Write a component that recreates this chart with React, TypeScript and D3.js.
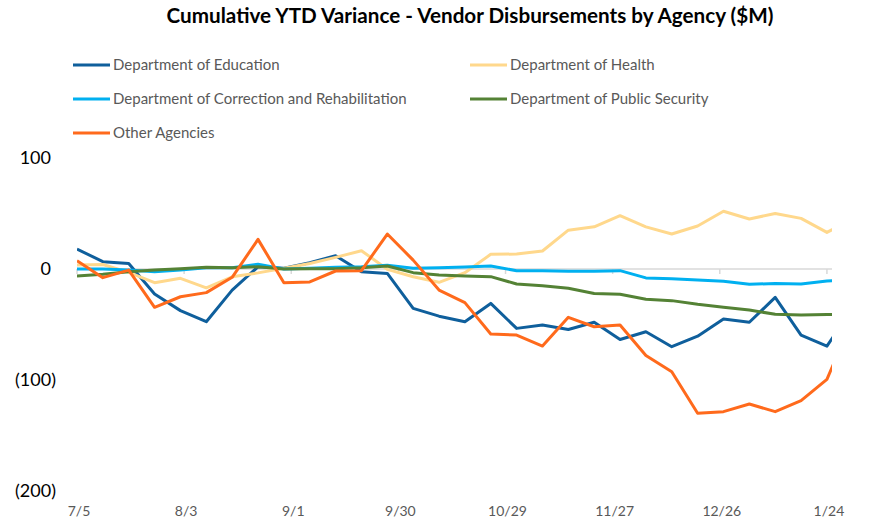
import React from 'react';
import * as d3 from 'd3';

// weekly snapshots, first one is 7/5
const startDate = '2019-07-05';
const weekCount = 31;

const education = [18, 6.6, 5, -22.5, -37.5, -47.5, -19, 2, 0.6, 5.7, 12, -2.4, -4, -35.5, -42.5, -47.5, -31, -53.5, -50.5, -54.5, -48, -63.5, -56.5, -70, -60.5, -45, -48, -25.5, -59.5, -69.5, -35];
const health = [3.6, 4, -3, -12.3, -8.4, -17, -7, -3.5, 0.6, 5, 10.5, 16.5, -0.3, -7, -12, -3.3, 13.2, 13.5, 16.2, 35, 38, 48, 38, 31.5, 38.7, 52, 45, 50, 45.6, 33, 45];
const correction = [0, 0, -1, -2.4, -1, 1.2, 1.2, 4.2, 0, 0.6, 1.5, 2, 3.3, 0.6, 1.2, 1.8, 2.7, -1.5, -1.5, -2, -2, -1.5, -8, -8.7, -10, -11, -13.8, -13, -13.5, -10.8, -10];
const publicSecurity = [-6.3, -4.8, -2.4, -1, 0.3, 1.5, 1.2, 2, 0, 0.3, 0.3, 1.2, 2.7, -3.3, -5.4, -6.3, -6.9, -13.5, -15, -17.4, -22, -22.8, -27.2, -28.5, -31.8, -34.5, -37, -40.8, -41.4, -41, -41];
const otherAgencies = [7.5, -7.8, -1, -34.5, -25, -21.3, -7.5, 26.7, -12.3, -11.7, -1.8, -1.5, 31.5, 8, -19, -30.3, -58.5, -59.5, -69.4, -43.5, -52, -50.5, -78, -92.5, -130, -128.5, -121.6, -128.5, -118.6, -99.4, -45];

const tickDates = ['2019-07-05', '2019-08-03', '2019-09-01', '2019-09-30', '2019-10-29', '2019-11-27', '2019-12-26', '2020-01-24'];
const yTicks = [100, 0, -100, -200];

const series = [
  { name: 'Department of Education', color: '#0F5F9C', values: education },
  { name: 'Department of Health', color: '#FFD88C', values: health },
  { name: 'Department of Correction and Rehabilitation', color: '#00B0F0', values: correction },
  { name: 'Department of Public Security', color: '#548235', values: publicSecurity },
  { name: 'Other Agencies', color: '#FF6A1C', values: otherAgencies },
];

const parse = d3.timeParse('%Y-%m-%d');
const fmt = d3.timeFormat('%-m/%-d');

export default function App() {
  const width = 884;
  const height = 519;
  const plot = { left: 77, right: 832, top: 158, bottom: 491 };
  const font = 'Lato, "Open Sans", sans-serif';

  const start = parse(startDate) as Date;
  const dates = d3.range(weekCount).map((i) => d3.timeDay.offset(start, i * 7));
  const lastTick = parse(tickDates[tickDates.length - 1]) as Date;

  const x = d3.scaleTime()
    .domain([start, d3.timeHour.offset(lastTick, 33)])
    .range([plot.left, plot.right]);
  const y = d3.scaleLinear().domain([-200, 100]).range([plot.bottom, plot.top]);

  const line = d3.line<number>()
    .x((_, i) => x(dates[i]))
    .y((d) => y(d));

  const yLabel = (v: number) => (v < 0 ? `(${Math.abs(v)})` : `${v}`);

  return (
    <svg width={width} height={height} style={{ position: 'absolute', left: 0, top: 0 }}>
      <defs>
        <clipPath id="plotClip">
          <rect x={plot.left} y={0} width={plot.right - plot.left} height={height} />
        </clipPath>
      </defs>

      <text x={470} y={23} textAnchor="middle" fontFamily={font} fontWeight="bold" fontSize={20} fill="#000"
        textLength={607} lengthAdjust="spacingAndGlyphs">
        Cumulative YTD Variance - Vendor Disbursements by Agency ($M)
      </text>

      {series.map((s, i) => {
        const col = i % 2;
        const row = Math.floor(i / 2);
        const lx = col === 0 ? 73 : 470;
        const ly = 65 + row * 34;
        return (
          <g key={s.name}>
            <line x1={lx} x2={lx + 37} y1={ly} y2={ly} stroke={s.color} strokeWidth={3} />
            <text x={lx + 40} y={ly} dy="0.35em" fontFamily={font} fontSize={15} fill="#595959">
              {s.name}
            </text>
          </g>
        );
      })}

      {yTicks.map((t) => (
        <text key={t} x={t < 0 ? 56 : 51} y={y(t)} dy="0.35em" textAnchor="end" fontFamily={font} fontSize={18} fill="#000">
          {yLabel(t)}
        </text>
      ))}

      <line x1={plot.left} x2={plot.right} y1={y(0)} y2={y(0)} stroke="#D9D9D9" strokeWidth={1.5} />
      {tickDates.map((d) => {
        const tx = x(parse(d) as Date);
        return (
          <g key={d}>
            <line x1={tx} x2={tx} y1={y(0)} y2={y(0) + 5} stroke="#D9D9D9" strokeWidth={1.5} />
            <text x={tx + 2} y={511} dy="0.35em" textAnchor="middle" fontFamily={font} fontSize={14} fill="#595959">
              {fmt(parse(d) as Date)}
            </text>
          </g>
        );
      })}

      <g clipPath="url(#plotClip)">
        {series.map((s) => (
          <path key={s.name} d={line(s.values) ?? ''} fill="none" stroke={s.color} strokeWidth={3} strokeLinejoin="round" />
        ))}
      </g>
    </svg>
  );
}
